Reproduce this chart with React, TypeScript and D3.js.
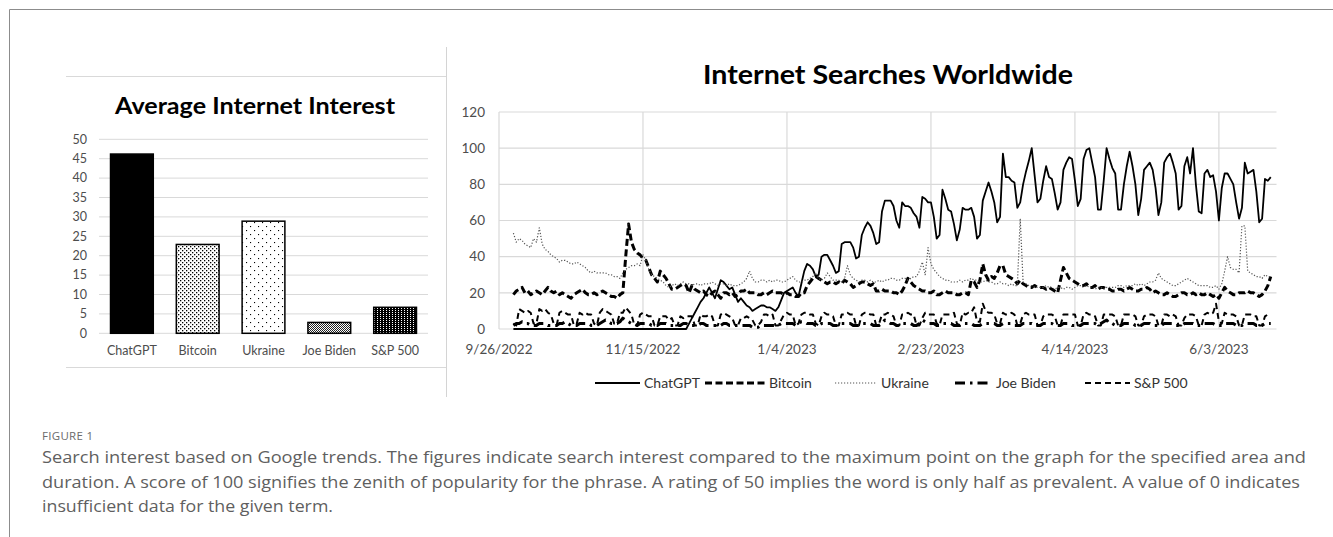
import * as d3 from "d3";

// ---- left panel: average interest ----
const barCategories = ["ChatGPT", "Bitcoin", "Ukraine", "Joe Biden", "S&P 500"];
const barValues = [46.2, 22.9, 28.9, 2.8, 6.7];
const barTicks = [0, 5, 10, 15, 20, 25, 30, 35, 40, 45, 50];

// ---- right panel: daily search interest, first value is 10/1/2022 ----
const firstDay = "10/1/2022";
const axisStart = "9/26/2022";
const axisEnd = "6/23/2023";
const dateTicks = ["9/26/2022", "11/15/2022", "1/4/2023", "2/23/2023", "4/14/2023", "6/3/2023"];
const lineTicks = [0, 20, 40, 60, 80, 100, 120];

// rows of 7 days, each row starts on a Saturday
const chatgpt = [
  0, 0, 0, 0, 0, 0, 0,
  0, 0, 0, 0, 0, 0, 0,
  0, 0, 0, 0, 0, 0, 0,
  0, 0, 0, 0, 0, 0, 0,
  0, 0, 0, 0, 0, 0, 0,
  0, 0, 0, 0, 0, 0, 0,
  0, 0, 0, 0, 0, 0, 0,
  0, 0, 0, 0, 0, 0, 0,
  0, 0, 0, 0, 0, 3, 6,
  9, 12, 15, 17, 20, 23, 20,
  17, 22, 27, 26, 24, 22, 23,
  19, 15, 17, 15, 13, 12, 10,
  11, 12, 13, 13, 12, 12, 11,
  10, 12, 16, 20, 21, 22, 23,
  20, 18, 25, 32, 36, 35, 33,
  29, 30, 40, 41, 41, 38, 35,
  31, 32, 47, 48, 48, 48, 45,
  39, 40, 52, 56, 59, 57, 53,
  47, 48, 65, 71, 71, 71, 68,
  60, 56, 70, 68, 68, 67, 64,
  62, 56, 73, 72, 70, 70, 62,
  50, 52, 77, 72, 66, 65, 58,
  49, 55, 67, 66, 66, 67, 62,
  50, 52, 71, 76, 81, 76, 70,
  59, 62, 97, 84, 84, 82, 81,
  67, 70, 80, 87, 93, 100, 85,
  70, 72, 82, 90, 84, 83, 75,
  66, 70, 88, 92, 95, 94, 82,
  68, 72, 94, 99, 100, 92, 84,
  66, 66, 82, 100, 94, 89, 86,
  66, 66, 80, 90, 98, 90, 80,
  63, 72, 88, 90, 92, 88, 78,
  63, 70, 92, 95, 97, 92, 86,
  66, 68, 90, 95, 86, 100, 80,
  65, 64, 86, 88, 84, 85, 76,
  60, 78, 86, 86, 83, 80, 70,
  61, 67, 92, 86, 87, 88, 76,
  59, 61, 83, 82, 84,
];

const bitcoin = [
  19, 21, 22, 23, 20, 21, 19,
  20, 21, 20, 19, 21, 23, 21,
  20, 21, 19, 20, 19, 18, 17,
  19, 20, 21, 22, 20, 19, 19,
  20, 19, 20, 21, 20, 19, 18,
  18, 17, 19, 20, 40, 58, 48,
  44, 42, 41, 39, 38, 34, 30,
  28, 26, 32, 30, 28, 25, 22,
  22, 23, 24, 25, 24, 20, 24,
  22, 21, 20, 21, 19, 18, 20,
  21, 19, 17, 20, 20, 19, 20,
  18, 19, 21, 21, 22, 20, 20,
  20, 19, 19, 20, 19, 20, 21,
  20, 20, 20, 19, 20, 19, 19,
  18, 18, 20, 20, 24, 26, 28,
  29, 28, 27, 26, 25, 26, 26,
  25, 26, 25, 27, 26, 25, 23,
  24, 25, 26, 26, 25, 24, 25,
  21, 21, 22, 21, 21, 21, 20,
  20, 19, 21, 24, 28, 26, 24,
  23, 22, 21, 21, 20, 20, 21,
  19, 19, 20, 21, 20, 20, 20,
  19, 19, 20, 20, 19, 27, 26,
  23, 27, 36, 30, 27, 29, 28,
  31, 35, 35, 30, 29, 28, 27,
  25, 27, 25, 24, 23, 23, 24,
  23, 23, 23, 22, 23, 22, 21,
  20, 27, 34, 31, 28, 27, 26,
  25, 24, 24, 25, 23, 23, 24,
  22, 23, 23, 22, 22, 21, 21,
  22, 22, 21, 22, 23, 22, 21,
  21, 22, 22, 23, 22, 20, 21,
  20, 19, 19, 20, 19, 18, 18,
  19, 20, 20, 19, 19, 20, 19,
  20, 19, 19, 20, 19, 18, 19,
  17, 20, 23, 21, 20, 19, 19,
  20, 20, 20, 21, 20, 20, 19,
  18, 19, 21, 24, 29,
];

const ukraine = [
  53, 48, 50, 49, 47, 46, 45,
  50, 48, 56, 47, 44, 43, 41,
  40, 39, 37, 38, 38, 37, 36,
  36, 37, 36, 35, 34, 32, 31,
  32, 31, 31, 31, 31, 30, 30,
  29, 29, 28, 31, 33, 34, 35,
  35, 36, 35, 41, 38, 33, 30,
  29, 28, 27, 26, 24, 23, 24,
  25, 24, 25, 26, 25, 25, 24,
  25, 25, 24, 25, 25, 25, 26,
  25, 24, 25, 25, 24, 25, 24,
  24, 24, 25, 26, 28, 32, 28,
  26, 26, 27, 27, 26, 27, 26,
  27, 27, 26, 26, 27, 28, 29,
  27, 26, 26, 27, 27, 28, 29,
  31, 28, 27, 28, 31, 29, 27,
  27, 27, 26, 28, 35, 30, 28,
  27, 26, 27, 27, 26, 27, 26,
  26, 27, 26, 27, 27, 28, 28,
  27, 27, 28, 28, 27, 28, 29,
  29, 32, 37, 30, 45, 36, 33,
  31, 29, 28, 27, 27, 26, 26,
  26, 27, 26, 27, 27, 28, 27,
  27, 26, 26, 27, 26, 26, 25,
  25, 26, 25, 25, 24, 25, 24,
  24, 61, 26, 25, 24, 24, 23,
  23, 23, 23, 24, 23, 23, 22,
  23, 23, 22, 23, 23, 22, 23,
  24, 24, 23, 24, 23, 23, 22,
  23, 23, 22, 23, 23, 23, 23,
  24, 24, 23, 24, 24, 24, 25,
  24, 25, 24, 25, 26, 26, 27,
  31, 28, 27, 26, 25, 24, 24,
  25, 26, 27, 28, 27, 26, 25,
  24, 24, 24, 24, 23, 23, 24,
  22, 25, 32, 40, 34, 33, 33,
  31, 57, 57, 32, 31, 30, 29,
  29, 28, 30, 29, 29,
];

const joeBiden = [
  2, 3, 3, 4, 3, 3, 2,
  2, 2, 3, 3, 3, 2, 2,
  2, 2, 3, 3, 4, 3, 2,
  2, 2, 3, 3, 3, 3, 2,
  2, 2, 3, 4, 5, 4, 3,
  3, 3, 4, 6, 5, 4, 3,
  3, 2, 3, 3, 3, 3, 2,
  2, 2, 3, 3, 3, 2, 2,
  2, 2, 2, 3, 3, 2, 2,
  2, 2, 3, 3, 2, 2, 2,
  2, 2, 2, 3, 3, 2, 2,
  2, 2, 2, 2, 2, 2, 1,
  1, 1, 2, 2, 2, 2, 2,
  2, 2, 3, 3, 3, 3, 3,
  2, 3, 4, 4, 3, 3, 3,
  2, 2, 3, 3, 3, 3, 2,
  2, 2, 3, 3, 3, 3, 2,
  2, 2, 3, 3, 3, 3, 2,
  2, 2, 3, 5, 4, 3, 3,
  2, 2, 3, 3, 3, 3, 2,
  2, 3, 5, 4, 3, 3, 3,
  2, 2, 3, 3, 3, 3, 2,
  2, 2, 3, 3, 3, 3, 2,
  2, 2, 3, 3, 3, 3, 3,
  2, 2, 3, 3, 3, 3, 2,
  2, 2, 3, 3, 3, 3, 2,
  2, 2, 3, 3, 3, 3, 2,
  2, 2, 3, 3, 3, 2, 2,
  2, 2, 3, 3, 3, 3, 3,
  2, 3, 4, 5, 3, 3, 2,
  2, 2, 3, 3, 3, 3, 2,
  2, 2, 3, 3, 3, 2, 2,
  2, 2, 3, 3, 3, 3, 2,
  2, 2, 3, 3, 3, 3, 2,
  2, 2, 3, 3, 3, 3, 2,
  2, 2, 3, 3, 3, 3, 2,
  2, 2, 3, 3, 3, 3, 2,
  2, 2, 3, 3, 3,
];

const sp500 = [
  3, 2, 11, 10, 9, 10, 9,
  3, 3, 11, 10, 11, 9, 8,
  3, 2, 9, 10, 9, 8, 8,
  2, 3, 9, 8, 9, 8, 8,
  3, 2, 9, 11, 10, 9, 8,
  3, 3, 9, 9, 12, 10, 8,
  2, 2, 8, 9, 8, 7, 7,
  2, 2, 7, 7, 7, 5, 6,
  2, 2, 7, 6, 7, 7, 7,
  2, 2, 8, 7, 7, 8, 7,
  2, 2, 8, 9, 8, 7, 6,
  2, 2, 6, 6, 7, 6, 5,
  2, 2, 4, 8, 8, 7, 8,
  2, 2, 5, 8, 9, 8, 8,
  2, 3, 8, 9, 9, 8, 8,
  3, 2, 7, 9, 8, 8, 7,
  2, 2, 8, 8, 9, 8, 8,
  2, 2, 8, 9, 9, 8, 8,
  2, 3, 8, 8, 9, 8, 7,
  2, 2, 8, 8, 9, 8, 8,
  2, 2, 6, 9, 8, 8, 8,
  3, 2, 8, 8, 8, 8, 9,
  3, 2, 9, 8, 9, 9, 12,
  4, 4, 14, 10, 9, 9, 8,
  3, 3, 9, 8, 8, 9, 8,
  2, 3, 8, 9, 8, 8, 8,
  2, 2, 7, 8, 8, 8, 7,
  2, 2, 8, 8, 8, 8, 8,
  2, 2, 8, 9, 8, 8, 7,
  2, 2, 8, 8, 8, 8, 7,
  2, 2, 8, 8, 8, 8, 7,
  2, 2, 7, 8, 8, 8, 7,
  2, 2, 8, 8, 7, 8, 7,
  2, 2, 6, 8, 8, 8, 7,
  2, 2, 8, 9, 8, 9, 14,
  4, 3, 9, 8, 8, 8, 7,
  2, 2, 8, 8, 8, 7, 7,
  2, 2, 7, 8, 8,
];

const lineSeries = [chatgpt, bitcoin, ukraine, joeBiden, sp500];

const lineStyles = [
  { stroke: "#000", width: 1.8, dash: "none" },
  { stroke: "#000", width: 3, dash: "7 3.5" },
  { stroke: "#555", width: 1.2, dash: "1.2 1.8" },
  { stroke: "#000", width: 3, dash: "10 5 2.5 5" },
  { stroke: "#000", width: 2, dash: "6 4" },
];
const barFills = ["#000", "url(#pBitcoin)", "url(#pUkraine)", "url(#pBiden)", "url(#pSP)"];

const captionLines = [
  "Search interest based on Google trends. The figures indicate search interest compared to the maximum point on the graph for the specified area and",
  "duration. A score of 100 signifies the zenith of popularity for the phrase. A rating of 50 implies the word is only half as prevalent. A value of 0 indicates",
  "insufficient data for the given term.",
];
const captionWidths = [1264, 1258, 291];

const FONT = "Lato, 'Open Sans', sans-serif";
const GRID = "#d9d9d9";
const LABEL = "#4d4d4d";

export default function App() {
  const W = 1333;
  const H = 537;

  // left scales
  const yL = d3.scaleLinear().domain([0, 50]).range([333.3, 139.3]);
  const xL = d3
    .scaleBand()
    .domain(barCategories)
    .range([99, 428])
    .paddingInner(0.35)
    .paddingOuter(0.175);

  // right scales
  const parse = d3.timeParse("%m/%d/%Y");
  const start = parse(firstDay)!;
  const xR = d3
    .scaleTime()
    .domain([parse(axisStart)!, parse(axisEnd)!])
    .range([499, 1276.5]);
  const yR = d3.scaleLinear().domain([0, 120]).range([329, 112]);
  const line = d3
    .line<number>()
    .x((_, i) => xR(d3.timeDay.offset(start, i)))
    .y((v) => yR(v));

  const legendX = [595, 705, 835, 955, 1085];
  const legendLen = [45, 60, 42, 37, 45];

  return (
    <>
      <style>{`body{margin:0}`}</style>
      <svg width={W} height={H} style={{ display: "block", background: "#fff" }}>
        <defs>
          <pattern id="pBitcoin" width="4" height="4" patternUnits="userSpaceOnUse">
            <rect width="4" height="4" fill="#fff" />
            <rect x="0" y="0" width="1.3" height="1.3" fill="#000" />
            <rect x="2" y="2" width="1.3" height="1.3" fill="#000" />
          </pattern>
          <pattern id="pUkraine" width="8" height="8" patternUnits="userSpaceOnUse">
            <rect width="8" height="8" fill="#fff" />
            <rect x="2" y="2" width="1.1" height="1.1" fill="#000" />
            <rect x="6" y="6" width="1.1" height="1.1" fill="#000" />
          </pattern>
          <pattern id="pBiden" width="2" height="2" patternUnits="userSpaceOnUse">
            <rect width="2" height="2" fill="#fff" />
            <rect x="0" y="0" width="1" height="1" fill="#222" />
            <rect x="1" y="1" width="1" height="1" fill="#222" />
          </pattern>
          <pattern id="pSP" width="3" height="2" patternUnits="userSpaceOnUse">
            <rect width="3" height="2" fill="#000" />
            <rect x="2" y="0" width="1" height="1" fill="#fff" />
          </pattern>
        </defs>

        {/* page frame */}
        <line x1={9.5} y1={9.5} x2={W} y2={9.5} stroke="#8c8c8c" />
        <line x1={9.5} y1={9.5} x2={9.5} y2={H} stroke="#8c8c8c" />
        <line x1={446.5} y1={47} x2={446.5} y2={397} stroke="#d4d4d4" />
        <line x1={66} y1={76.5} x2={446} y2={76.5} stroke={GRID} />
        <line x1={66} y1={367.5} x2={446} y2={367.5} stroke={GRID} />

        {/* left chart */}
        <text
          x={115}
          y={114}
          fontFamily={FONT}
          fontWeight={700}
          fontSize={23}
          fill="#000"
          textLength={280}
          lengthAdjust="spacingAndGlyphs"
        >
          Average Internet Interest
        </text>
        {barTicks.map((t) => (
          <g key={t}>
            <line x1={99} x2={428} y1={yL(t)} y2={yL(t)} stroke={GRID} strokeWidth={1} />
            <text x={87} y={yL(t)} dy="0.35em" textAnchor="end" fontFamily={FONT} fontSize={12.5} fill={LABEL}>
              {t}
            </text>
          </g>
        ))}
        {barCategories.map((c, i) => (
          <g key={c}>
            <rect
              x={xL(c)}
              y={yL(barValues[i])}
              width={xL.bandwidth()}
              height={yL(0) - yL(barValues[i])}
              fill={barFills[i]}
              stroke="#000"
              strokeWidth={1.5}
            />
            <text x={xL(c)! + xL.bandwidth() / 2} y={355} textAnchor="middle" fontFamily={FONT} fontSize={12.5} fill={LABEL}>
              {c}
            </text>
          </g>
        ))}

        {/* right chart */}
        <text
          x={703}
          y={84}
          fontFamily={FONT}
          fontWeight={700}
          fontSize={27}
          fill="#000"
          textLength={370}
          lengthAdjust="spacingAndGlyphs"
        >
          Internet Searches Worldwide
        </text>
        {lineTicks.map((t) => (
          <g key={t}>
            <line x1={499} x2={1276.5} y1={yR(t)} y2={yR(t)} stroke={GRID} strokeWidth={1.2} />
            <text x={485} y={yR(t)} dy="0.35em" textAnchor="end" fontFamily={FONT} fontSize={13.5} fill={LABEL}>
              {t}
            </text>
          </g>
        ))}
        {dateTicks.map((t) => {
          const x = xR(parse(t)!);
          return (
            <g key={t}>
              <line x1={x} x2={x} y1={112} y2={329} stroke={GRID} strokeWidth={1.2} />
              <text x={x} y={349} dy="0.35em" textAnchor="middle" fontFamily={FONT} fontSize={13.5} fill={LABEL}>
                {t}
              </text>
            </g>
          );
        })}
        {lineSeries.map((s, i) => (
          <path
            key={barCategories[i]}
            d={line(s)!}
            fill="none"
            stroke={lineStyles[i].stroke}
            strokeWidth={lineStyles[i].width}
            strokeDasharray={lineStyles[i].dash}
            strokeLinejoin="round"
          />
        ))}

        {/* legend */}
        {barCategories.map((c, i) => (
          <g key={c}>
            <line
              x1={legendX[i]}
              x2={legendX[i] + legendLen[i]}
              y1={383}
              y2={383}
              stroke={lineStyles[i].stroke}
              strokeWidth={lineStyles[i].width}
              strokeDasharray={lineStyles[i].dash}
            />
            <text x={legendX[i] + legendLen[i] + 4} y={383} dy="0.35em" fontFamily={FONT} fontSize={14} fill="#333">
              {c}
            </text>
          </g>
        ))}

        {/* caption */}
        <text x={42} y={440} fontFamily="'Open Sans', sans-serif" fontSize={11.5} fill="#6b6b6b" letterSpacing={0.3}>
          FIGURE 1
        </text>
        {captionLines.map((l, i) => (
          <text
            key={i}
            x={42}
            y={463 + i * 24.5}
            fontFamily="'Open Sans', sans-serif"
            fontSize={16}
            fill="#5f5f5f"
            textLength={captionWidths[i]}
            lengthAdjust="spacingAndGlyphs"
          >
            {l}
          </text>
        ))}
      </svg>
    </>
  );
}
